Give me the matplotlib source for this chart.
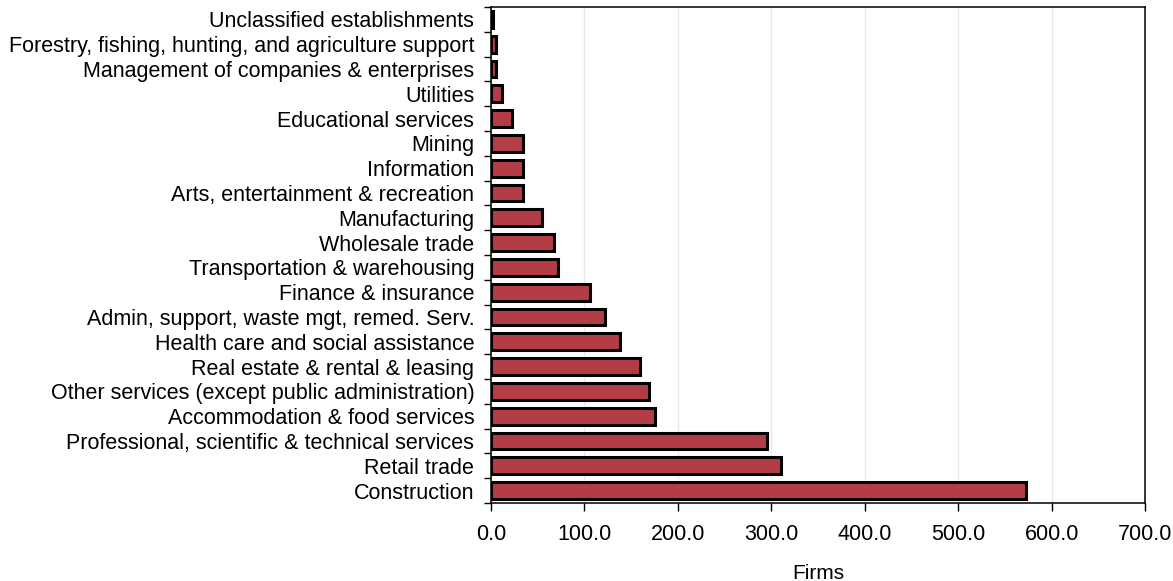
import matplotlib
matplotlib.use("Agg")
import matplotlib.pyplot as plt
import numpy as np
from matplotlib.ticker import FixedLocator, FuncFormatter

categories = [
    "Construction",
    "Retail trade",
    "Professional, scientific & technical services",
    "Accommodation & food services",
    "Other services (except public administration)",
    "Real estate & rental & leasing",
    "Health care and social assistance",
    "Admin, support, waste mgt, remed. Serv.",
    "Finance & insurance",
    "Transportation & warehousing",
    "Wholesale trade",
    "Manufacturing",
    "Arts, entertainment & recreation",
    "Information",
    "Mining",
    "Educational services",
    "Utilities",
    "Management of companies & enterprises",
    "Forestry, fishing, hunting, and agriculture support",
    "Unclassified establishments",
]
firms = [573, 310, 295, 175, 169, 160, 138, 122, 106, 72, 67, 55, 34, 34, 34, 23, 12, 5, 5, 2]
xticks = [0, 100, 200, 300, 400, 500, 600, 700]

plt.rcParams['font.family'] = ['Liberation Sans', 'DejaVu Sans']

fig = plt.figure(figsize=(11.73, 5.81), dpi=100)
ax = fig.add_axes([491/1173, 1 - 503/581, (1145-491)/1173, (503-7)/581])

y = np.arange(len(categories))
ax.barh(y, firms, height=0.68, color='#B43C46', edgecolor='black', linewidth=2.2, zorder=3)

ax.set_xlim(0, 700)
ax.set_ylim(-0.5, len(categories) - 0.5)
ax.set_xticks(xticks)
ax.xaxis.set_major_formatter(FuncFormatter(lambda v, p: f"{v:.1f}"))
ax.set_yticks(y)
ax.set_yticklabels(categories)
ax.tick_params(axis='y', which='major', length=0, labelsize=15.5, pad=12)
ax.yaxis.set_minor_locator(FixedLocator(np.arange(-0.5, len(categories), 1.0)))
ax.tick_params(axis='y', which='minor', length=5, width=1, direction='out')
ax.tick_params(axis='x', which='major', length=6, width=1, labelsize=15.5, pad=9)
ax.grid(axis='x', color='#e8e8e8', linewidth=1, zorder=0)
for s in ax.spines.values():
    s.set_linewidth(1.1)
    s.set_color('black')
ax.set_xlabel("Firms", fontsize=15, labelpad=14)

fig.savefig("out.png", dpi=100)
